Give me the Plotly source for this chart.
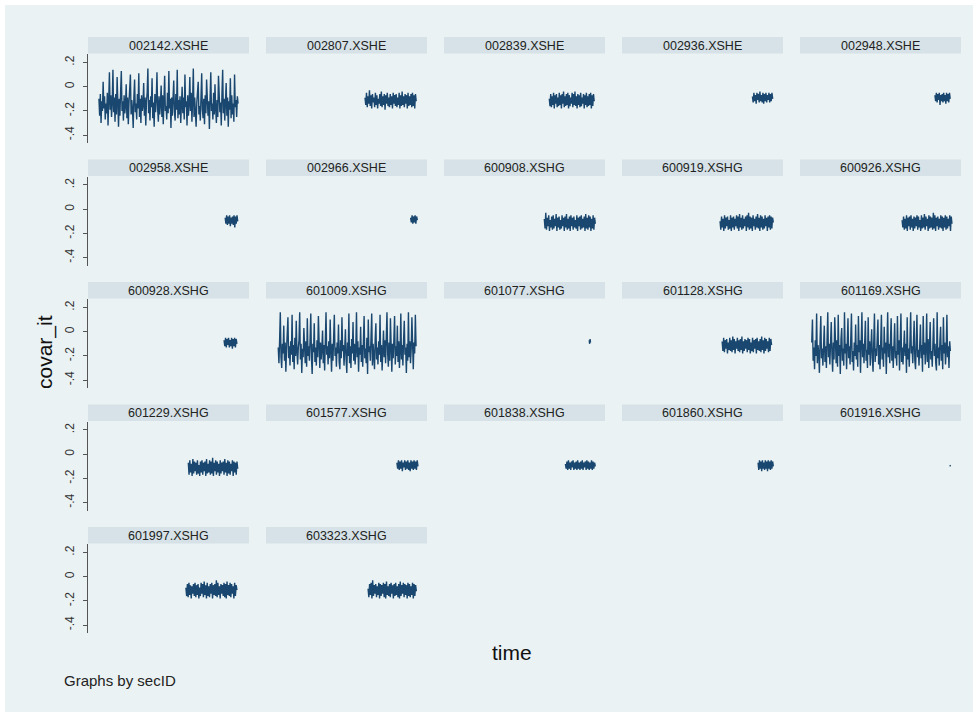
import numpy as np
import plotly.graph_objects as go

# ---------------- data ----------------
sec_ids = ["002142.XSHE", "002807.XSHE", "002839.XSHE", "002936.XSHE", "002948.XSHE",
           "002958.XSHE", "002966.XSHE", "600908.XSHG", "600919.XSHG", "600926.XSHG",
           "600928.XSHG", "601009.XSHG", "601077.XSHG", "601128.XSHG", "601169.XSHG",
           "601229.XSHG", "601577.XSHG", "601838.XSHG", "601860.XSHG", "601916.XSHG",
           "601997.XSHG", "603323.XSHG"]

# first and last time index of each security's series
t_first = [68, 615, 654, 810, 838, 852, 898, 623, 609, 634,
           845, 76, 902, 622, 73, 623, 813, 754, 845, 931, 608, 634]
t_last = [932, 933, 933, 936, 933, 930, 940, 940, 940, 944,
          925, 932, 910, 929, 934, 930, 944, 940, 940, 935, 925, 934]

v_002142 = [
    -0.10,-0.24,-0.06,-0.30,-0.12,-0.20,0.04,-0.18,-0.08,-0.27,
    -0.14,-0.22,-0.05,-0.32,-0.11,0.12,-0.19,-0.07,-0.25,-0.13,
    0.14,-0.21,-0.09,-0.29,-0.06,-0.23,0.08,-0.16,-0.33,-0.10,
    -0.24,-0.04,0.13,-0.20,-0.12,-0.28,-0.07,-0.22,-0.15,0.02,
    -0.26,-0.09,-0.31,-0.13,-0.05,0.10,-0.23,-0.11,-0.19,-0.34,
    -0.08,0.06,-0.21,-0.14,-0.27,-0.06,-0.18,0.11,-0.25,-0.10,
    -0.30,-0.07,-0.20,-0.15,0.03,-0.24,-0.09,-0.32,-0.12,-0.05,
    0.15,-0.22,-0.11,-0.28,-0.08,-0.17,0.07,-0.26,-0.13,-0.33,
    -0.06,-0.21,-0.10,0.12,-0.19,-0.29,-0.08,-0.23,-0.14,0.01,
    -0.25,-0.07,-0.31,-0.12,0.09,-0.20,-0.16,-0.27,-0.05,-0.22,
    0.13,-0.18,-0.10,-0.34,-0.09,-0.24,-0.13,0.05,-0.21,-0.28,
    -0.06,-0.19,0.14,-0.26,-0.11,-0.23,-0.08,-0.30,-0.15,0.00,
    -0.22,-0.09,-0.27,0.10,-0.17,-0.12,-0.32,-0.07,-0.24,-0.14,
    0.08,-0.20,-0.05,-0.29,-0.11,0.15,-0.25,-0.09,-0.21,-0.33,
    -0.13,-0.06,0.04,-0.23,-0.16,-0.28,-0.08,0.11,-0.19,-0.26,
    -0.10,-0.31,-0.07,-0.22,0.06,-0.15,-0.24,-0.12,-0.35,-0.09,
    0.12,-0.20,-0.14,-0.27,-0.05,-0.23,0.02,-0.18,-0.30,-0.11,
    -0.25,0.09,-0.08,-0.21,-0.13,-0.32,-0.06,0.14,-0.22,-0.10,
    -0.28,-0.16,0.03,-0.24,-0.09,-0.33,-0.12,-0.19,0.07,-0.26,
    -0.07,-0.23,-0.14,-0.29,0.10,-0.17,-0.11,-0.25,-0.08,-0.14]
v_002807 = [
    -0.09,-0.15,-0.05,-0.17,-0.08,-0.14,-0.03,-0.16,-0.07,-0.18,
    -0.06,-0.13,-0.09,-0.17,-0.05,-0.15,-0.07,-0.18,-0.10,-0.14,
    -0.06,-0.16,-0.04,-0.17,-0.08,-0.15,-0.06,-0.19,-0.07,-0.14,
    -0.05,-0.16,-0.09,-0.17,-0.06,-0.15,-0.08,-0.18,-0.05,-0.14,
    -0.07,-0.16,-0.06,-0.17,-0.09,-0.15,-0.05,-0.18,-0.07,-0.16,
    -0.04,-0.15,-0.08,-0.17,-0.06,-0.14,-0.07,-0.18,-0.05,-0.16,
    -0.08,-0.15,-0.06,-0.17,-0.05,-0.16,-0.07,-0.18,-0.06,-0.12]
v_002839 = [
    -0.10,-0.16,-0.06,-0.17,-0.08,-0.15,-0.05,-0.18,-0.07,-0.14,
    -0.06,-0.17,-0.09,-0.16,-0.05,-0.15,-0.07,-0.18,-0.06,-0.14,
    -0.04,-0.17,-0.08,-0.16,-0.06,-0.15,-0.05,-0.18,-0.07,-0.16,
    -0.09,-0.14,-0.05,-0.17,-0.06,-0.15,-0.04,-0.16,-0.08,-0.18,
    -0.06,-0.15,-0.07,-0.17,-0.05,-0.16,-0.09,-0.14,-0.06,-0.18,
    -0.07,-0.15,-0.05,-0.17,-0.08,-0.16,-0.06,-0.15,-0.05,-0.18,
    -0.07,-0.16,-0.06,-0.12]
v_002936 = [-0.08,-0.13,-0.05,-0.12,-0.07,-0.14,-0.05,-0.11,-0.06,-0.13,-0.04,-0.12,-0.07,-0.13,
            -0.05,-0.14,-0.06,-0.12,-0.05,-0.13,-0.07,-0.11,-0.05,-0.13,-0.06,-0.12,-0.05,-0.10]
v_002948 = [-0.07,-0.12,-0.05,-0.13,-0.06,-0.11,-0.05,-0.15,-0.07,-0.12,-0.06,
            -0.13,-0.05,-0.12,-0.07,-0.14,-0.05,-0.12,-0.06,-0.13,-0.05,-0.10]
v_002958 = [-0.07,-0.12,-0.05,-0.13,-0.06,-0.12,-0.05,-0.14,-0.07,
            -0.12,-0.06,-0.13,-0.05,-0.15,-0.06,-0.12,-0.05,-0.10]
v_002966 = [-0.07,-0.11,-0.05,-0.12,-0.06,-0.11,-0.05,-0.12,-0.06,-0.09]
v_600908 = [
    -0.08,-0.16,-0.03,-0.17,-0.07,-0.14,-0.05,-0.18,-0.09,-0.15,
    -0.06,-0.17,-0.05,-0.16,-0.08,-0.14,-0.04,-0.18,-0.07,-0.15,
    -0.06,-0.17,-0.09,-0.16,-0.05,-0.14,-0.07,-0.18,-0.06,-0.15,
    -0.04,-0.17,-0.08,-0.16,-0.06,-0.18,-0.05,-0.14,-0.07,-0.17,
    -0.06,-0.15,-0.09,-0.16,-0.05,-0.18,-0.07,-0.14,-0.06,-0.17,
    -0.05,-0.16,-0.08,-0.15,-0.06,-0.18,-0.04,-0.16,-0.07,-0.17,
    -0.05,-0.15,-0.06,-0.18,-0.08,-0.16,-0.05,-0.17,-0.07,-0.12]
v_600919 = [
    -0.10,-0.17,-0.06,-0.15,-0.08,-0.18,-0.05,-0.16,-0.07,-0.14,
    -0.06,-0.17,-0.09,-0.16,-0.05,-0.18,-0.07,-0.15,-0.06,-0.17,
    -0.08,-0.14,-0.05,-0.16,-0.06,-0.18,-0.04,-0.15,-0.07,-0.17,
    -0.05,-0.16,-0.08,-0.14,-0.06,-0.18,-0.05,-0.15,-0.03,-0.17,
    -0.06,-0.16,-0.07,-0.18,-0.05,-0.14,-0.08,-0.17,-0.06,-0.15,
    -0.04,-0.16,-0.07,-0.18,-0.05,-0.15,-0.06,-0.17,-0.08,-0.16,
    -0.05,-0.14,-0.07,-0.18,-0.06,-0.15,-0.05,-0.17,-0.06,-0.16,
    -0.07,-0.11]
v_600926 = [
    -0.09,-0.15,-0.06,-0.17,-0.08,-0.16,-0.05,-0.18,-0.07,-0.14,
    -0.06,-0.17,-0.05,-0.15,-0.08,-0.18,-0.06,-0.16,-0.07,-0.14,
    -0.05,-0.17,-0.06,-0.15,-0.09,-0.18,-0.05,-0.16,-0.07,-0.15,
    -0.04,-0.17,-0.06,-0.14,-0.08,-0.18,-0.05,-0.16,-0.06,-0.15,
    -0.07,-0.17,-0.03,-0.16,-0.05,-0.18,-0.07,-0.14,-0.06,-0.17,
    -0.08,-0.15,-0.05,-0.16,-0.06,-0.18,-0.07,-0.15,-0.05,-0.17,
    -0.06,-0.16,-0.08,-0.14,-0.05,-0.18,-0.06,-0.12]
v_600928 = [-0.07,-0.12,-0.05,-0.13,-0.06,-0.11,-0.05,-0.13,-0.07,
            -0.12,-0.05,-0.14,-0.06,-0.12,-0.05,-0.13,-0.06,-0.10]
v_601009 = [
    -0.13,-0.26,-0.07,0.16,-0.21,-0.30,-0.10,-0.18,0.05,-0.24,
    -0.09,-0.33,-0.15,-0.06,0.12,-0.22,-0.12,-0.28,-0.08,-0.19,
    0.14,-0.25,-0.11,-0.31,-0.05,-0.20,0.09,-0.16,-0.27,-0.13,
    -0.07,0.16,-0.23,-0.10,-0.34,-0.14,-0.21,0.03,-0.18,-0.26,
    -0.08,-0.29,0.11,-0.20,-0.12,-0.24,-0.06,0.15,-0.22,-0.35,
    -0.10,-0.17,0.07,-0.25,-0.13,-0.28,-0.07,-0.21,0.13,-0.16,
    -0.30,-0.09,-0.23,-0.14,0.01,-0.26,-0.11,-0.32,-0.06,0.16,
    -0.19,-0.12,-0.27,-0.08,-0.22,0.10,-0.15,-0.33,-0.10,-0.24,
    -0.05,0.14,-0.20,-0.13,-0.29,-0.09,-0.18,0.06,-0.25,-0.31,
    -0.07,-0.22,0.12,-0.16,-0.11,-0.28,-0.14,0.02,-0.23,-0.34,
    -0.09,-0.20,0.15,-0.26,-0.12,-0.30,-0.06,-0.18,0.08,-0.24,
    -0.10,-0.27,-0.15,0.16,-0.21,-0.08,-0.33,-0.13,-0.19,0.04,
    -0.25,-0.11,-0.29,-0.07,0.13,-0.22,-0.14,-0.26,-0.05,-0.35,
    0.10,-0.17,-0.12,-0.24,-0.09,0.15,-0.28,-0.10,-0.20,-0.31,
    -0.06,0.07,-0.23,-0.13,-0.27,-0.08,-0.19,0.14,-0.25,-0.11,
    -0.32,-0.15,0.01,-0.21,-0.07,-0.26,-0.12,0.16,-0.18,-0.29,
    -0.09,-0.24,0.11,-0.14,-0.33,-0.10,-0.22,-0.06,0.13,-0.27,
    -0.12,-0.20,0.05,-0.25,-0.08,-0.30,-0.16,0.15,-0.23,-0.11,
    -0.28,-0.07,0.09,-0.19,-0.13,-0.34,-0.10,-0.24,0.16,-0.21,
    -0.08,-0.26,-0.14,0.12,-0.22,-0.31,-0.09,-0.18,0.14,-0.12]
v_601077 = [-0.07,-0.10,-0.06,-0.09]
v_601128 = [
    -0.08,-0.16,-0.05,-0.17,-0.07,-0.14,-0.06,-0.18,-0.09,-0.15,
    -0.05,-0.16,-0.07,-0.17,-0.04,-0.15,-0.06,-0.18,-0.08,-0.14,
    -0.05,-0.16,-0.07,-0.17,-0.06,-0.15,-0.04,-0.18,-0.08,-0.16,
    -0.06,-0.14,-0.07,-0.17,-0.05,-0.15,-0.06,-0.18,-0.09,-0.16,
    -0.05,-0.17,-0.07,-0.14,-0.06,-0.18,-0.05,-0.15,-0.08,-0.16,
    -0.06,-0.17,-0.04,-0.15,-0.07,-0.18,-0.05,-0.16,-0.06,-0.14,
    -0.08,-0.17,-0.05,-0.16,-0.06,-0.11]
v_601169 = [
    -0.09,0.10,-0.24,-0.13,-0.31,-0.07,-0.20,0.15,-0.26,-0.11,
    -0.18,-0.34,-0.06,0.13,-0.22,-0.14,-0.28,-0.08,0.05,-0.25,
    -0.12,-0.30,-0.05,0.16,-0.21,-0.10,-0.27,-0.15,0.08,-0.19,
    -0.33,-0.09,-0.23,0.12,-0.13,-0.26,-0.07,-0.29,0.14,-0.20,
    -0.11,-0.35,-0.06,0.03,-0.24,-0.14,-0.28,0.16,-0.18,-0.10,
    -0.31,-0.08,0.11,-0.22,-0.12,-0.27,-0.05,0.15,-0.25,-0.16,
    -0.32,-0.09,-0.20,0.06,-0.23,-0.11,-0.29,0.13,-0.17,-0.07,
    -0.34,-0.13,0.16,-0.21,-0.10,-0.26,-0.06,0.09,-0.24,-0.15,
    -0.30,0.12,-0.19,-0.08,-0.28,-0.12,0.02,-0.22,-0.33,-0.09,
    0.15,-0.25,-0.14,-0.20,-0.06,0.10,-0.27,-0.11,-0.31,-0.07,
    0.14,-0.23,-0.13,-0.29,0.04,-0.18,-0.09,-0.35,-0.15,0.16,
    -0.21,-0.10,-0.26,-0.05,0.11,-0.24,-0.12,-0.30,-0.08,0.07,
    -0.22,-0.16,-0.28,0.13,-0.19,-0.07,-0.32,-0.11,0.15,-0.25,
    -0.13,-0.27,-0.06,0.01,-0.20,-0.10,-0.34,0.12,-0.23,-0.14,
    -0.29,-0.08,0.16,-0.18,-0.12,-0.26,-0.05,0.09,-0.24,-0.31,
    -0.10,0.14,-0.21,-0.15,-0.28,-0.07,0.06,-0.22,-0.11,-0.33,
    0.13,-0.19,-0.09,-0.27,-0.14,0.15,-0.25,-0.06,-0.30,-0.12,
    0.08,-0.23,-0.16,-0.29,-0.08,0.11,-0.20,-0.10,-0.26,-0.32,
    0.16,-0.22,-0.13,-0.28,-0.07,0.04,-0.24,-0.11,-0.31,0.12,
    -0.18,-0.09,-0.27,-0.15,0.14,-0.21,-0.12,-0.30,-0.08,-0.16]
v_601229 = [
    -0.07,-0.17,-0.05,-0.15,-0.08,-0.18,-0.04,-0.16,-0.06,-0.14,
    -0.07,-0.17,-0.05,-0.16,-0.09,-0.18,-0.06,-0.15,-0.05,-0.17,
    -0.07,-0.14,-0.06,-0.18,-0.04,-0.16,-0.08,-0.15,-0.05,-0.17,
    -0.06,-0.16,-0.03,-0.18,-0.07,-0.14,-0.05,-0.17,-0.06,-0.15,
    -0.08,-0.18,-0.05,-0.16,-0.07,-0.14,-0.06,-0.17,-0.04,-0.15,
    -0.07,-0.18,-0.05,-0.16,-0.06,-0.17,-0.08,-0.14,-0.05,-0.18,
    -0.06,-0.15,-0.07,-0.17,-0.06,-0.12]
v_601577 = [-0.07,-0.12,-0.05,-0.13,-0.06,-0.12,-0.05,-0.14,-0.07,-0.11,-0.05,-0.13,-0.06,-0.12,
            -0.05,-0.13,-0.07,-0.14,-0.05,-0.12,-0.06,-0.13,-0.05,-0.12,-0.06,-0.13,-0.05,-0.10]
v_601838 = [-0.08,-0.12,-0.06,-0.13,-0.05,-0.12,-0.07,-0.13,-0.06,-0.11,
            -0.05,-0.13,-0.07,-0.12,-0.06,-0.13,-0.05,-0.12,-0.07,-0.13,
            -0.06,-0.12,-0.05,-0.13,-0.07,-0.11,-0.06,-0.13,-0.05,-0.12,
            -0.06,-0.13,-0.07,-0.12,-0.05,-0.13,-0.06,-0.12,-0.07,-0.10]
v_601860 = [-0.07,-0.13,-0.05,-0.12,-0.06,-0.14,-0.05,-0.12,-0.07,-0.13,-0.05,
            -0.12,-0.06,-0.14,-0.05,-0.12,-0.06,-0.13,-0.05,-0.12,-0.06,-0.10]
v_601916 = [-0.09,-0.10]
v_601997 = [
    -0.09,-0.16,-0.06,-0.17,-0.05,-0.15,-0.07,-0.18,-0.08,-0.14,
    -0.06,-0.16,-0.05,-0.17,-0.07,-0.15,-0.06,-0.18,-0.09,-0.16,
    -0.05,-0.14,-0.06,-0.17,-0.04,-0.15,-0.07,-0.18,-0.05,-0.16,
    -0.08,-0.17,-0.06,-0.14,-0.05,-0.18,-0.07,-0.15,-0.06,-0.16,
    -0.03,-0.17,-0.05,-0.15,-0.08,-0.18,-0.06,-0.14,-0.07,-0.16,
    -0.05,-0.17,-0.06,-0.18,-0.04,-0.15,-0.07,-0.16,-0.05,-0.17,
    -0.06,-0.14,-0.08,-0.18,-0.05,-0.16,-0.07,-0.11]
v_603323 = [
    -0.10,-0.17,-0.06,-0.15,-0.05,-0.18,-0.03,-0.16,-0.07,-0.14,
    -0.06,-0.17,-0.08,-0.15,-0.05,-0.18,-0.06,-0.16,-0.07,-0.14,
    -0.05,-0.17,-0.06,-0.18,-0.04,-0.15,-0.08,-0.16,-0.06,-0.17,
    -0.05,-0.14,-0.07,-0.18,-0.06,-0.16,-0.05,-0.15,-0.08,-0.17,
    -0.06,-0.18,-0.04,-0.16,-0.07,-0.14,-0.05,-0.17,-0.06,-0.15,
    -0.07,-0.18,-0.05,-0.16,-0.06,-0.17,-0.08,-0.15,-0.05,-0.18,
    -0.06,-0.16,-0.07,-0.12]

series = [v_002142, v_002807, v_002839, v_002936, v_002948, v_002958, v_002966,
          v_600908, v_600919, v_600926, v_600928, v_601009, v_601077, v_601128,
          v_601169, v_601229, v_601577, v_601838, v_601860, v_601916, v_601997, v_603323]

y_tick_vals = [-0.4, -0.2, 0, 0.2]
y_tick_text = ["-.4", "-.2", "0", ".2"]

# ---------------- layout constants ----------------
W, H = 979, 717
NAVY = "#1a476f"
BG = "#eaf2f3"
STRIP = "#d6e2e7"
FONT = "Liberation Sans, Arial, sans-serif"

fig = go.Figure()
layout = dict(
    width=W, height=H, margin=dict(l=0, r=0, t=0, b=0),
    paper_bgcolor="white", plot_bgcolor="white", showlegend=False,
    font=dict(family=FONT, color="#222"),
)
shapes = [dict(type="rect", xref="paper", yref="paper",
               x0=5 / W, x1=973 / W, y0=1 - 712 / H, y1=1 - 5 / H,
               fillcolor=BG, line=dict(width=0), layer="below")]
annotations = []

for i, sid in enumerate(sec_ids):
    r, c = divmod(i, 5)
    px0 = 88 + 178 * c
    px1 = 249 + 178 * c
    ptop = 54 + 122.5 * r
    pbot = 143 + 122.5 * r
    n = i + 1
    xa = "xaxis" if n == 1 else f"xaxis{n}"
    ya = "yaxis" if n == 1 else f"yaxis{n}"
    layout[xa] = dict(domain=[px0 / W, px1 / W], range=[0, 1000], showgrid=False,
                      zeroline=False, showticklabels=False, ticks="", showline=False,
                      anchor=f"y{n}" if n > 1 else "y", fixedrange=True)
    first_col = (c == 0)
    layout[ya] = dict(domain=[1 - pbot / H, 1 - ptop / H], range=[-0.465, 0.27],
                      tickvals=y_tick_vals, ticktext=y_tick_text,
                      showticklabels=first_col, ticks="outside" if first_col else "",
                      ticklen=4, tickwidth=1, tickcolor="#555",
                      showline=first_col, linecolor="#555", linewidth=1.2,
                      tickangle=-90, ticklabelstandoff=4,
                      tickfont=dict(size=12, color="#333", family=FONT),
                      showgrid=True, gridcolor=BG, gridwidth=1, zeroline=False,
                      anchor=f"x{n}" if n > 1 else "x", fixedrange=True)
    vals = series[i]
    t = np.linspace(t_first[i], t_last[i], len(vals))
    fig.add_trace(go.Scatter(x=t, y=vals, mode="lines",
                             line=dict(color=NAVY, width=1.4),
                             xaxis=f"x{n}" if n > 1 else "x",
                             yaxis=f"y{n}" if n > 1 else "y",
                             hoverinfo="skip"))
    # strip header
    shapes.append(dict(type="rect", xref="paper", yref="paper",
                       x0=px0 / W, x1=px1 / W,
                       y0=1 - (ptop - 0.5) / H, y1=1 - (ptop - 17) / H,
                       fillcolor=STRIP, line=dict(width=0), layer="below"))
    annotations.append(dict(text=sid, xref="paper", yref="paper",
                            x=(px0 + px1) / 2 / W, y=1 - (ptop - 8.5) / H,
                            xanchor="center", yanchor="middle", showarrow=False,
                            font=dict(size=12.5, color="#222", family=FONT)))

annotations.append(dict(text="covar_it", xref="paper", yref="paper",
                        x=45 / W, y=1 - 352 / H, textangle=-90,
                        xanchor="center", yanchor="middle", showarrow=False,
                        font=dict(size=21, color="#111", family=FONT)))
annotations.append(dict(text="time", xref="paper", yref="paper",
                        x=512 / W, y=1 - 652 / H,
                        xanchor="center", yanchor="middle", showarrow=False,
                        font=dict(size=21, color="#111", family=FONT)))
annotations.append(dict(text="Graphs by secID", xref="paper", yref="paper",
                        x=62 / W, y=1 - 680 / H,
                        xanchor="left", yanchor="middle", showarrow=False,
                        font=dict(size=15, color="#222", family=FONT)))

layout["shapes"] = shapes
layout["annotations"] = annotations
fig.update_layout(**layout)

fig.write_html("out.html", config={"displayModeBar": False},
               post_script="document.body.style.margin='0';document.body.style.overflow='hidden';")
